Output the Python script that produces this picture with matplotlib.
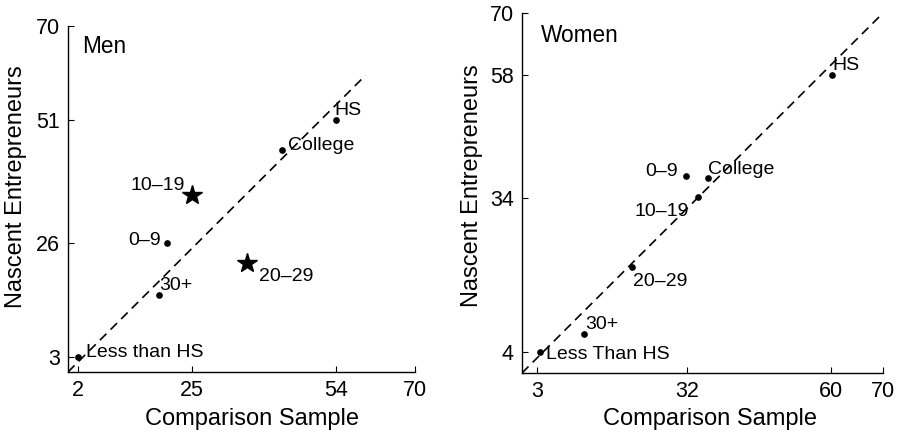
import matplotlib
matplotlib.use("Agg")
import matplotlib.pyplot as plt

plt.rcParams["font.family"] = ["Liberation Sans", "DejaVu Sans"]

# ---- Men panel data ----
men_labels = ["Less than HS", "30+", "0\u20139", "10\u201319", "20\u201329", "College", "HS"]
men_x = [2, 18.3, 20, 25, 36, 43.2, 54]
men_y = [3, 15.6, 26, 35.8, 22, 45, 51]
men_star = [False, False, False, True, True, False, False]
men_text_xy = [(3.6, 3), (18.4, 16.6), (18.7, 25.7), (23.6, 36.8), (38.5, 18.3), (44.4, 45), (53.8, 52)]
men_text_ha = ["left", "left", "right", "right", "left", "left", "left"]
men_xticks = [2, 25, 54, 70]
men_yticks = [3, 26, 51, 70]
men_diag = [0, 60]

# ---- Women panel data ----
women_labels = ["Less Than HS", "30+", "20\u201329", "10\u201319", "0\u20139", "College", "HS"]
women_x = [3.4, 12.1, 21.4, 34.2, 31.8, 36, 60.2]
women_y = [4, 7.5, 20.6, 34.2, 38.3, 38, 58]
women_star = [False] * 7
women_text_xy = [(4.7, 2.8), (12.3, 8.5), (21.6, 16.9), (32.4, 30.6), (30.3, 38.3), (36.1, 38.8), (60.2, 59)]
women_text_ha = ["left", "left", "left", "right", "right", "left", "left"]
women_xticks = [3, 32, 60, 70]
women_yticks = [4, 34, 58, 70]
women_diag = [0, 70]


def draw_panel(ax, title, xs, ys, stars, labels, text_xy, text_ha,
               xticks, yticks, diag, title_xy, ylab_xy, xlab_xy):
    ax.plot(diag, diag, color="black", lw=1.2, ls=(0, (5.5, 3.5)), zorder=1)
    for x, y, st in zip(xs, ys, stars):
        if st:
            ax.plot(x, y, marker="*", color="black", ms=15, zorder=3)
        else:
            ax.plot(x, y, marker="o", color="black", ms=3.8, zorder=3)
    for lab, (tx, ty), ha in zip(labels, text_xy, text_ha):
        ax.text(tx, ty, lab, ha=ha, va="baseline", fontsize=14)
    ax.text(title_xy[0], title_xy[1], title, ha="left", va="baseline", fontsize=16.3)

    ax.set_xlim(0, 70)
    ax.set_ylim(0, 70)
    ax.set_xticks(xticks)
    ax.set_yticks(yticks)
    ax.tick_params(direction="in", length=4, width=0.8, labelsize=15.5, pad=6)
    for s in ("top", "right"):
        ax.spines[s].set_visible(False)
    for s in ("left", "bottom"):
        ax.spines[s].set_linewidth(1.0)
    ax.set_xlabel("Comparison Sample", fontsize=17)
    ax.set_ylabel("Nascent Entrepreneurs", fontsize=17)
    ax.yaxis.set_label_coords(*ylab_xy)
    ax.xaxis.set_label_coords(*xlab_xy)


fig = plt.figure(figsize=(9, 4.32), dpi=100)
ax_m = fig.add_axes([0.0756, 0.139, 0.3856, 0.801])
ax_w = fig.add_axes([0.58, 0.1366, 0.401, 0.833])

draw_panel(ax_m, "Men", men_x, men_y, men_star, men_labels, men_text_xy,
           men_text_ha, men_xticks, men_yticks, men_diag,
           (2.8, 64.6), (-0.117, 0.535), (0.53, -0.104))
draw_panel(ax_w, "Women", women_x, women_y, women_star, women_labels,
           women_text_xy, women_text_ha, women_xticks, women_yticks,
           women_diag, (3.6, 64.4), (-0.108, 0.522), (0.52, -0.097))

fig.savefig("out.png", dpi=100)
